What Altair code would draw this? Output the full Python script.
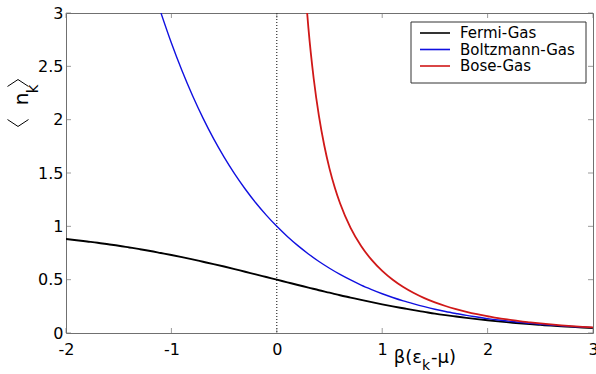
import altair as alt
import pandas as pd

# ---- data ----
fermi_x = [-2.0, -1.9, -1.8, -1.7, -1.6, -1.5, -1.4, -1.3, -1.2, -1.1, -1.0, -0.9, -0.8, -0.7, -0.6,
           -0.5, -0.4, -0.3, -0.2, -0.1, 0.0, 0.1, 0.2, 0.3, 0.4, 0.5, 0.6, 0.7, 0.8, 0.9, 1.0,
           1.1, 1.2, 1.3, 1.4, 1.5, 1.6, 1.7, 1.8, 1.9, 2.0, 2.1, 2.2, 2.3, 2.4, 2.5, 2.6, 2.7,
           2.8, 2.9, 3.0]
fermi_y = [0.881, 0.870, 0.858, 0.846, 0.832, 0.818, 0.802, 0.786, 0.769, 0.750, 0.731, 0.711,
           0.690, 0.668, 0.646, 0.623, 0.599, 0.574, 0.550, 0.525, 0.500, 0.475, 0.450, 0.426,
           0.401, 0.378, 0.354, 0.332, 0.310, 0.289, 0.269, 0.250, 0.232, 0.214, 0.198, 0.182,
           0.168, 0.155, 0.142, 0.130, 0.119, 0.109, 0.100, 0.091, 0.083, 0.076, 0.069, 0.063,
           0.057, 0.052, 0.047]

boltz_x = [-1.099, -1.0, -0.9, -0.8, -0.7, -0.6, -0.5, -0.4, -0.3, -0.2, -0.1, 0.0, 0.1, 0.2,
           0.3, 0.4, 0.5, 0.6, 0.7, 0.8, 0.9, 1.0, 1.1, 1.2, 1.3, 1.4, 1.5, 1.6, 1.7, 1.8, 1.9,
           2.0, 2.1, 2.2, 2.3, 2.4, 2.5, 2.6, 2.7, 2.8, 2.9, 3.0]
boltz_y = [3.0, 2.718, 2.460, 2.226, 2.014, 1.822, 1.649, 1.492, 1.350, 1.221, 1.105, 1.0,
           0.905, 0.819, 0.741, 0.670, 0.607, 0.549, 0.497, 0.449, 0.407, 0.368, 0.333, 0.301,
           0.273, 0.247, 0.223, 0.202, 0.183, 0.165, 0.150, 0.135, 0.122, 0.111, 0.100, 0.091,
           0.082, 0.074, 0.067, 0.061, 0.055, 0.050]

bose_x = [0.288, 0.3, 0.35, 0.4, 0.45, 0.5, 0.55, 0.6, 0.7, 0.8, 0.9, 1.0, 1.1, 1.2, 1.3, 1.4,
          1.5, 1.6, 1.7, 1.8, 1.9, 2.0, 2.1, 2.2, 2.3, 2.4, 2.5, 2.6, 2.7, 2.8, 2.9, 3.0]
bose_y = [3.0, 2.858, 2.386, 2.033, 1.760, 1.541, 1.364, 1.216, 0.986, 0.816, 0.685, 0.582,
          0.499, 0.431, 0.375, 0.327, 0.287, 0.253, 0.224, 0.198, 0.176, 0.157, 0.139, 0.125,
          0.111, 0.0998, 0.0894, 0.0802, 0.0720, 0.0647, 0.0582, 0.0524]

series_names = ["Fermi-Gas", "Boltzmann-Gas", "Bose-Gas"]
series_colors = ["#000000", "#1010e0", "#d01818"]
series_widths = [1.9, 1.4, 1.8]

x_ticks = [-2, -1, 0, 1, 2, 3]
y_ticks = [0, 0.5, 1, 1.5, 2, 2.5, 3]

FONT = "DejaVu Sans"
W, H = 527, 320
BOX = "#707070"

xscale = alt.Scale(domain=[-2, 3], nice=False, zero=False)
yscale = alt.Scale(domain=[0, 3], nice=False)

x_axis = alt.Axis(values=x_ticks, labelExpr="'' + datum.value", title=None, grid=False,
                  domain=False, ticks=False, labelFlush=False, labelPadding=8, labelFont=FONT,
                  labelFontSize=16, labelColor="black")
y_axis = alt.Axis(values=y_ticks, format="~g", title=None, grid=False, domain=False,
                  ticks=False, labelPadding=3, labelFont=FONT, labelFontSize=16,
                  labelColor="black")

X = lambda f: alt.X(f, scale=xscale, axis=x_axis, title=None)
Y = lambda f: alt.Y(f, scale=yscale, axis=y_axis, title=None)

xs = [fermi_x, boltz_x, bose_x]
ys = [fermi_y, boltz_y, bose_y]

layers = []
# dotted line at x = 0
layers.append(
    alt.Chart(pd.DataFrame({"x": [0]})).mark_rule(color="black", strokeDash=[1, 2], strokeWidth=1)
    .encode(x=X("x:Q"))
)
for i, name in enumerate(series_names):
    df = pd.DataFrame({"x": xs[i], "y": ys[i]})
    layers.append(
        alt.Chart(df).mark_line(color=series_colors[i], strokeWidth=series_widths[i],
                                interpolate="monotone", clip=True)
        .encode(x=X("x:Q"), y=Y("y:Q"), order="x:Q")
    )

# inward tick marks (MATLAB style) on all four sides
xt_df = pd.DataFrame({"x": x_ticks})
yt_df = pd.DataFrame({"y": y_ticks})
for ypix in [H - 2.5, 2.5]:
    layers.append(alt.Chart(xt_df).mark_tick(orient="vertical", size=5, thickness=1, color=BOX)
                  .encode(x=X("x:Q"), y=alt.value(ypix)))
for xpix in [2.5, W - 2.5]:
    layers.append(alt.Chart(yt_df).mark_tick(orient="horizontal", size=5, thickness=1, color=BOX)
                  .encode(y=Y("y:Q"), x=alt.value(xpix)))

one = pd.DataFrame({"a": [0]})

def txt(s, x, y, size, align="left", baseline="alphabetic", angle=0, font=FONT):
    return alt.Chart(one).mark_text(align=align, baseline=baseline, font=font, fontSize=size,
                                    color="black", fill="black", angle=angle) \
        .encode(x=alt.value(x), y=alt.value(y), text=alt.value(s))

# x-axis title  β(ε_k-μ)
layers.append(txt("β(ε", 356, 350, 18, align="right"))
layers.append(txt("k", 356, 357, 14))
layers.append(txt("-μ)", 365, 350, 18))

# y-axis title  ⟨ n_k ⟩  (rotated; angle brackets drawn as thin chevrons)
layers.append(alt.Chart(one).mark_point(shape="M-1,-0.33L0,0.33L1,-0.33", filled=False,
                                        stroke="black", strokeWidth=1, size=441, opacity=1)
              .encode(x=alt.value(-48), y=alt.value(110)))
layers.append(alt.Chart(one).mark_point(shape="M-1,0.33L0,-0.33L1,0.33", filled=False,
                                        stroke="black", strokeWidth=1, size=441, opacity=1)
              .encode(x=alt.value(-48), y=alt.value(70)))
layers.append(txt("n", -44, 86, 20, align="center", baseline="middle", angle=270))
layers.append(txt("k", -33, 76, 15, align="center", baseline="middle", angle=270))

# legend box
layers.append(alt.Chart(one).mark_rect(fill="white", stroke="#333333", strokeWidth=1)
              .encode(x=alt.value(345), x2=alt.value(520), y=alt.value(9), y2=alt.value(70)))
for i, name in enumerate(series_names):
    ypos = 20 + 16.5 * i
    layers.append(alt.Chart(one).mark_rule(color=series_colors[i], strokeWidth=1.6)
                  .encode(x=alt.value(354), x2=alt.value(384), y=alt.value(ypos)))
    layers.append(txt(name, 394, ypos, 15, baseline="middle"))

chart = alt.layer(*layers).properties(
    width=W, height=H,
    autosize=alt.AutoSizeParams(type="none"),
    padding={"left": 66, "top": 13, "right": 3, "bottom": 41},
    background="white",
).configure_view(stroke=BOX, strokeWidth=1)

chart.save("out.html", embed_options={"renderer": "svg", "actions": False})
